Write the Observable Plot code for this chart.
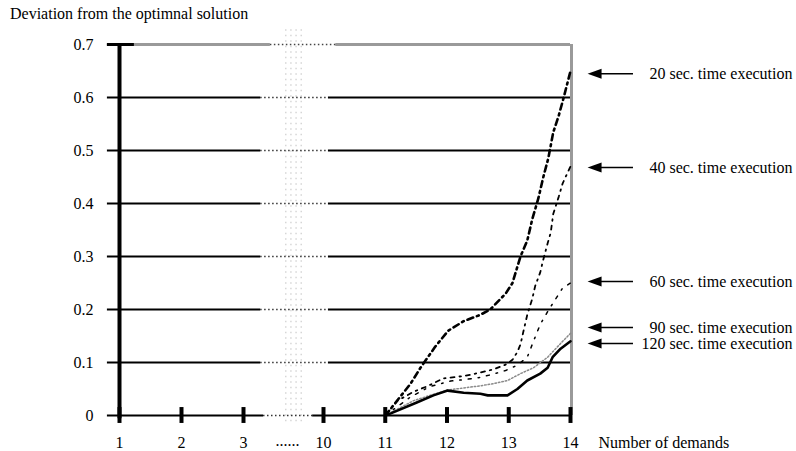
<!DOCTYPE html>
<html><head><meta charset="utf-8">
<script src="https://cdn.jsdelivr.net/npm/d3@7"></script>
<script src="https://cdn.jsdelivr.net/npm/@observablehq/plot@0.6"></script>
<style>
body{margin:0;background:#fff;}
#wrap{position:relative;width:796px;height:451px;font-family:"Liberation Serif","Times New Roman",serif;}
#title{position:absolute;left:10px;top:5px;font-size:16px;line-height:normal;white-space:nowrap;z-index:2;}
#wrap svg{position:absolute;left:0;top:0;z-index:1;}
</style></head><body>
<div id="wrap"><div id="title">Deviation from the optimnal solution</div></div>
<script>
// ---- data ----
const demandTicks = [1, 2, 3, 10, 11, 12, 13, 14];
const demandTickLabels = ["1", "2", "3", "10", "11", "12", "13", "14"];
const yTicks = [0, 0.1, 0.2, 0.3, 0.4, 0.5, 0.6, 0.7];
const yTickLabels = ["0", "0.1", "0.2", "0.3", "0.4", "0.5", "0.6", "0.7"];
const gridValues = [0.1, 0.2, 0.3, 0.4, 0.5, 0.6];

const x20 = [11.0, 11.09, 11.41, 11.57, 11.81, 12.02, 12.27, 12.54, 12.70, 12.95, 13.06, 13.19, 13.30, 13.38, 13.48, 13.56, 13.64, 13.72, 13.81, 13.89, 14.0];
const y20 = [0.0, 0.013, 0.06, 0.09, 0.13, 0.16, 0.178, 0.19, 0.20, 0.23, 0.25, 0.30, 0.33, 0.37, 0.41, 0.45, 0.485, 0.534, 0.566, 0.60, 0.65];

const x40 = [11.0, 11.2, 11.46, 11.68, 11.94, 12.09, 12.30, 12.54, 12.75, 12.95, 13.06, 13.14, 13.19, 13.24, 13.30, 13.38, 13.43, 13.51, 13.55, 13.63, 13.68, 13.72, 13.81, 13.87, 13.92, 14.0];
const y40 = [0.0, 0.028, 0.045, 0.055, 0.07, 0.072, 0.075, 0.081, 0.087, 0.096, 0.105, 0.12, 0.134, 0.16, 0.19, 0.22, 0.245, 0.27, 0.29, 0.325, 0.345, 0.38, 0.413, 0.437, 0.45, 0.47];

const x60 = [11.0, 11.41, 11.73, 12.06, 12.30, 12.54, 12.75, 12.95, 13.14, 13.30, 13.40, 13.51, 13.64, 13.76, 13.87, 14.0];
const y60 = [0.0, 0.035, 0.055, 0.065, 0.068, 0.072, 0.078, 0.085, 0.095, 0.11, 0.14, 0.172, 0.198, 0.22, 0.24, 0.25];

const x90 = [11.0, 11.46, 11.78, 12.01, 12.27, 12.54, 12.75, 12.98, 13.19, 13.40, 13.63, 13.84, 14.0];
const y90 = [0.0, 0.028, 0.04, 0.048, 0.052, 0.056, 0.06, 0.066, 0.079, 0.09, 0.11, 0.136, 0.155];

const x120 = [11.0, 11.09, 11.52, 11.78, 12.01, 12.27, 12.54, 12.66, 12.98, 13.14, 13.30, 13.51, 13.63, 13.71, 13.84, 14.0];
const y120 = [0.0, 0.004, 0.025, 0.038, 0.047, 0.043, 0.041, 0.038, 0.038, 0.05, 0.066, 0.079, 0.09, 0.11, 0.126, 0.14];

const seriesLabels = ["20 sec. time execution", "40 sec. time execution", "60 sec. time execution", "90 sec. time execution", "120 sec. time execution"];
const labelY = [0.645, 0.468, 0.253, 0.166, 0.136];

// axis break (between 3 and 10), in demand units
const gridBreak = [4.5, 10.08];
const topBreak = [5.35, 10.2];
const axisBreak = [4.75, 9.05];
const breakBand = [6.7, 7.15, 7.6, 8.05];
const breakDotsX = 6.85;

// ---- build ----
const toRows = (xs, ys) => xs.map((x, i) => ({x, y: ys[i]}));
const s20 = toRows(x20, y20), s40 = toRows(x40, y40), s60 = toRows(x60, y60), s90 = toRows(x90, y90), s120 = toRows(x120, y120);

const leftTriangle = {
  draw(ctx, size) {
    const r = Math.sqrt(size / Math.PI);
    ctx.moveTo(-1.4 * r, 0);
    ctx.lineTo(1.4 * r, -r);
    ctx.lineTo(1.4 * r, r);
    ctx.closePath();
  }
};

const chart = Plot.plot({
  width: 796, height: 451,
  marginLeft: 0, marginRight: 4, marginTop: 0, marginBottom: 0,
  x: {type: "linear", domain: [1, 3, 10, 14], range: [119, 243, 323, 570], axis: null},
  y: {type: "linear", domain: [0, 0.7], range: [415, 44], axis: null},
  style: {fontFamily: "'Liberation Serif','Times New Roman',serif", fontSize: "16px", color: "black", background: "transparent"},
  marks: [
    // break band
    Plot.ruleX(breakBand, {y1: -0.012, y2: 0.728, stroke: "#d0d0d0", strokeWidth: 1.3, strokeDasharray: "1.5,4"}),
    // grid lines
    Plot.ruleY(gridValues, {x1: 1, x2: gridBreak[0], stroke: "black", strokeWidth: 2}),
    Plot.ruleY(gridValues, {x1: gridBreak[1], x2: 14, stroke: "black", strokeWidth: 2}),
    Plot.ruleY(gridValues, {x1: gridBreak[0], x2: gridBreak[1], stroke: "#333", strokeWidth: 1.3, strokeDasharray: "1.5,2.5"}),
    // top line
    Plot.ruleY([0.7], {x1: 1, x2: topBreak[0], stroke: "#9a9a9a", strokeWidth: 3}),
    Plot.ruleY([0.7], {x1: topBreak[1], x2: 14, stroke: "#9a9a9a", strokeWidth: 3}),
    Plot.ruleY([0.7], {x1: topBreak[0], x2: topBreak[1], stroke: "#444", strokeWidth: 1.3, strokeDasharray: "1.5,2.5"}),
    // right border
    Plot.ruleX([14], {y1: 0, y2: 0.7, stroke: "#9a9a9a", strokeWidth: 3, dx: 1}),
    // x axis
    Plot.ruleY([0], {x1: 1, x2: axisBreak[0], stroke: "black", strokeWidth: 2}),
    Plot.ruleY([0], {x1: axisBreak[1], x2: 14, stroke: "black", strokeWidth: 2}),
    Plot.ruleY([0], {x1: axisBreak[0], x2: axisBreak[1], stroke: "#333", strokeWidth: 1.3, strokeDasharray: "1.5,2.5"}),
    Plot.ruleX(demandTicks, {y1: -0.015, y2: 0.015, stroke: "black", strokeWidth: 4}),
    // y axis
    Plot.ruleY(yTicks, {x1: 0.805, x2: 1, stroke: "black", strokeWidth: 2}),
    Plot.ruleY([0.7], {x1: 0.805, x2: 1.24, stroke: "black", strokeWidth: 3}),
    Plot.ruleX([1], {y1: -0.006, y2: 0.7, stroke: "black", strokeWidth: 4}),
    // series
    Plot.line(s90, {x: "x", y: "y", stroke: "#8a8a8a", strokeWidth: 1.5, strokeDasharray: "1.5,2"}),
    Plot.line(s60, {x: "x", y: "y", stroke: "black", strokeWidth: 1.5, strokeDasharray: "3,7,1.5,7"}),
    Plot.line(s40, {x: "x", y: "y", stroke: "black", strokeWidth: 1.8, strokeDasharray: "4,5,1.5,5"}),
    Plot.line(s20, {x: "x", y: "y", stroke: "black", strokeWidth: 2.6, strokeDasharray: "6,4,2,4"}),
    Plot.line(s120, {x: "x", y: "y", stroke: "black", strokeWidth: 2.6}),
    // tick labels
    Plot.text(yTicks, {x: 1, y: d => d, text: (d, i) => yTickLabels[i], textAnchor: "end", dx: -26, fontSize: 16}),
    Plot.text(demandTicks, {x: d => d, y: 0, text: (d, i) => demandTickLabels[i], dy: 27, fontSize: 16}),
    Plot.text(["......"], {x: breakDotsX, y: 0, text: d => d, dy: 25, fontSize: 16}),
    Plot.text(["Number of demands"], {x: 14, y: 0, text: d => d, dx: 28, dy: 27, textAnchor: "start", fontSize: 16}),
    // annotations
    Plot.ruleY(labelY, {x1: 14.39, x2: 15.02, stroke: "black", strokeWidth: 1.5}),
    Plot.dot(labelY, {x: 14.39, y: d => d, symbol: leftTriangle, r: 5, fill: "black", stroke: "none"}),
    Plot.text(labelY, {y: d => d, text: (d, i) => seriesLabels[i], frameAnchor: "right", textAnchor: "end", fontSize: 16})
  ]
});
document.getElementById("wrap").appendChild(chart);
</script>
</body></html>
